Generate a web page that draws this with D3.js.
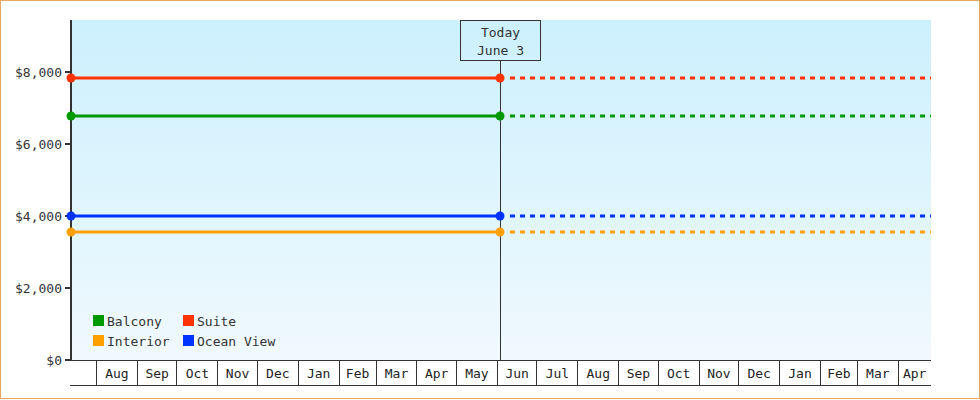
<!DOCTYPE html>
<html>
<head>
<meta charset="utf-8">
<script src="https://cdn.jsdelivr.net/npm/d3@7"></script>
<style>
  body { margin: 0; background: #fff; }
  svg { display: block; font-family: 'DejaVu Sans Mono', monospace; }
</style>
</head>
<body>
<svg width="980" height="400"></svg>
<script>
// Data
const series_names = ['Balcony', 'Suite', 'Interior', 'Ocean View'];
const series_values = [6778, 7833, 3556, 4000];
const series_colors = ['#009900', '#ff3300', '#ffa000', '#0033ff'];
const y_ticks = [0, 2000, 4000, 6000, 8000];
const start_date = new Date(2024, 6, 12, 16);
const today_date = new Date(2025, 5, 3);
const end_date = new Date(2026, 3, 25, 20);
const today_label = ['Today', 'June 3'];
const y_max = 9444;

// Constants
const svg = d3.select('svg');
const margin = { top: 20, right: 49, bottom: 40, left: 71 };
const width = +svg.attr('width');
const height = +svg.attr('height');
const inner_width = width - margin.left - margin.right;
const inner_height = height - margin.top - margin.bottom;
const band_height = 25;

// Outer border
svg.append('rect')
    .attr('x', 0.5).attr('y', 0.5)
    .attr('width', 979).attr('height', 398)
    .attr('fill', 'none')
    .attr('stroke', '#e8a860')
    .attr('stroke-width', 1);

const defs = svg.append('defs');
const grad = defs.append('linearGradient')
    .attr('id', 'bg').attr('x1', 0).attr('y1', 0).attr('x2', 0).attr('y2', 1);
grad.append('stop').attr('offset', '0%').attr('stop-color', '#ccf0fd');
grad.append('stop').attr('offset', '100%').attr('stop-color', '#f0f9fe');

const g = svg.append('g')
    .attr('transform', `translate(${margin.left}, ${margin.top})`);

g.append('rect')
    .attr('width', inner_width)
    .attr('height', inner_height)
    .attr('fill', 'url(#bg)');

const x = d3.scaleTime()
    .domain([start_date, end_date])
    .range([0, inner_width]);
const y = d3.scaleLinear()
    .domain([0, y_max])
    .range([inner_height, 0]);

// Month bands under the plot
const months = d3.timeMonth.range(d3.timeMonth.floor(start_date), end_date);
const axis_g = g.append('g').attr('transform', `translate(0, ${inner_height})`);
axis_g.append('line')
    .attr('x1', 0).attr('x2', inner_width)
    .attr('y1', 0.5).attr('y2', 0.5)
    .attr('stroke', '#333');
axis_g.append('line')
    .attr('x1', -1).attr('x2', inner_width)
    .attr('y1', band_height + 0.5).attr('y2', band_height + 0.5)
    .attr('stroke', '#333');
months.forEach(m => {
    const a = Math.max(0, x(m));
    const b = Math.min(inner_width, x(d3.timeMonth.offset(m, 1)));
    if (x(m) > 0) {
        axis_g.append('line')
            .attr('x1', Math.floor(a) + 0.5).attr('x2', Math.floor(a) + 0.5)
            .attr('y1', 0).attr('y2', band_height)
            .attr('stroke', '#333');
    }
    if (b - a > 30) {
        axis_g.append('text')
            .attr('x', (a + b) / 2)
            .attr('y', band_height / 2 + 1)
            .attr('dy', '.35em')
            .attr('text-anchor', 'middle')
            .attr('font-size', '13px')
            .attr('fill', '#222')
            .text(d3.timeFormat('%b')(m));
    }
});

// Y axis
const y_axis = g.append('g');
y_axis.append('line')
    .attr('x1', 0).attr('x2', 0)
    .attr('y1', 0).attr('y2', inner_height + 1)
    .attr('stroke', '#333').attr('stroke-width', 2);
y_ticks.forEach(t => {
    y_axis.append('line')
        .attr('x1', -6).attr('x2', 0)
        .attr('y1', y(t)).attr('y2', y(t))
        .attr('stroke', '#333').attr('stroke-width', 2);
    y_axis.append('text')
        .attr('x', -9)
        .attr('y', y(t))
        .attr('dy', '.35em')
        .attr('text-anchor', 'end')
        .attr('font-size', '13px')
        .attr('fill', '#333')
        .text('$' + d3.format(',')(t));
});

// Today marker
const tx = Math.floor(x(today_date)) + 0.5;
g.append('line')
    .attr('x1', tx).attr('x2', tx)
    .attr('y1', 40).attr('y2', inner_height)
    .attr('stroke', '#333');
g.append('rect')
    .attr('x', tx - 40).attr('y', 0.5)
    .attr('width', 80).attr('height', 40)
    .attr('fill', 'none')
    .attr('stroke', '#333');
today_label.forEach((t, i) => {
    g.append('text')
        .attr('x', tx)
        .attr('y', 12 + i * 18)
        .attr('dy', '.35em')
        .attr('text-anchor', 'middle')
        .attr('font-size', '13px')
        .attr('fill', '#333')
        .text(t);
});

// Lines
series_names.forEach((name, i) => {
    const v = series_values[i];
    const c = series_colors[i];
    g.append('line')
        .attr('x1', x(start_date)).attr('x2', x(today_date))
        .attr('y1', y(v)).attr('y2', y(v))
        .attr('stroke', c).attr('stroke-width', 3);
    g.append('line')
        .attr('x1', x(today_date) + 5).attr('x2', x(end_date))
        .attr('y1', y(v)).attr('y2', y(v))
        .attr('stroke', c).attr('stroke-width', 3)
        .attr('stroke-dasharray', '5,5')
        .attr('stroke-dashoffset', 5);
    [start_date, today_date].forEach(d => {
        g.append('circle')
            .attr('cx', x(d)).attr('cy', y(v))
            .attr('r', 4.5)
            .attr('fill', c);
    });
});

// Legend
const legend = g.append('g').attr('transform', 'translate(22, 295)');
series_names.forEach((name, i) => {
    const item = legend.append('g')
        .attr('transform', `translate(${(i % 2) * 90}, ${Math.floor(i / 2) * 20})`);
    item.append('rect')
        .attr('width', 11).attr('height', 11)
        .attr('fill', series_colors[i]);
    item.append('text')
        .attr('x', 14).attr('y', 6)
        .attr('dy', '.35em')
        .attr('font-size', '13px')
        .attr('fill', '#333')
        .text(name);
});
</script>
</body>
</html>
